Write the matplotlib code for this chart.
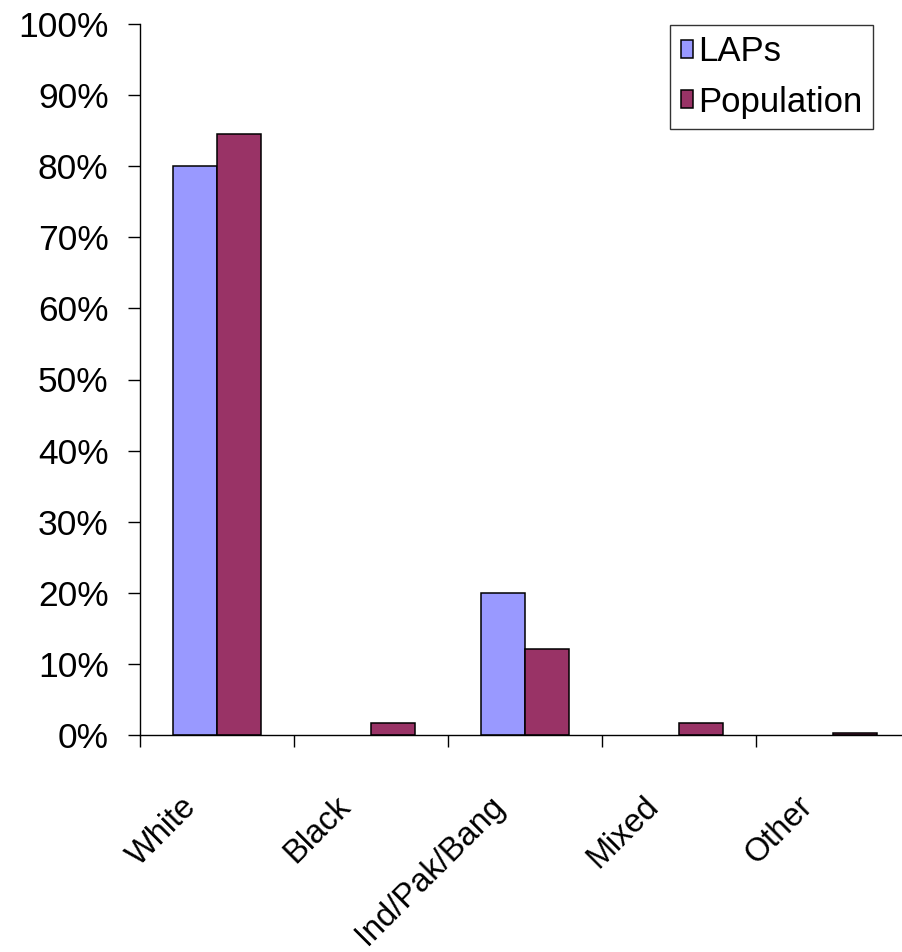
import numpy as np
import matplotlib.pyplot as plt
from matplotlib.transforms import ScaledTranslation

# Chart data (shares of each group)
categories = ["White", "Black", "Ind/Pak/Bang", "Mixed", "Other"]
laps = [80.0, 0.0, 20.0, 0.0, 0.0]
population = [84.5, 1.7, 12.1, 1.7, 0.3]
yticks = [0, 10, 20, 30, 40, 50, 60, 70, 80, 90, 100]

plt.rcParams['font.family'] = ['Liberation Sans', 'DejaVu Sans']

fig = plt.figure(figsize=(9.02, 9.52), dpi=100)
ax = fig.add_axes([140 / 902, 217 / 952, 770 / 902, 711 / 952])

x = np.arange(len(categories))
w = 44 / 154
# zero-height bars get no outline, as in the original
ax.bar(x - w / 2, laps, width=w, color="#9999FF", edgecolor="black",
       linewidth=[1.1 if v > 0 else 0 for v in laps], label="LAPs")
ax.bar(x + w / 2, population, width=w, color="#993366", edgecolor="black",
       linewidth=[1.1 if v > 0 else 0 for v in population], label="Population")

ax.set_xlim(-0.5, len(categories) - 0.5)
ax.set_ylim(0, 100)
ax.set_yticks(yticks)
ax.set_yticklabels([f"{v}%" for v in yticks], fontsize=25.5)
ax.tick_params(axis="y", direction="out", length=8.6, width=1, pad=14)

# category labels at centres, tick marks on the boundaries
ax.set_xticks(x)
ax.set_xticklabels(categories, fontsize=23.5, rotation=45, ha="right", va="center",
                   rotation_mode="anchor")
ax.tick_params(axis="x", which="major", length=0, pad=48)
ax.set_xticks(np.arange(len(categories) + 1) - 0.5, minor=True)
ax.tick_params(axis="x", which="minor", direction="out", length=8.6, width=1)
shift = ScaledTranslation(-25 / 100, 0, fig.dpi_scale_trans)
for lab in ax.get_xticklabels():
    lab.set_transform(lab.get_transform() + shift)

for side in ["top", "right"]:
    ax.spines[side].set_visible(False)
ax.spines["left"].set_linewidth(1)
ax.spines["bottom"].set_linewidth(1)

leg = ax.legend(loc="upper right", bbox_to_anchor=(873 / 902, 1 - 25 / 952),
                bbox_transform=fig.transFigure, fontsize=25, frameon=True,
                fancybox=False, shadow=False, handlelength=0.36, handleheight=0.42,
                handletextpad=0.15, borderpad=0.3, labelspacing=0.5, borderaxespad=0)
leg.get_frame().set_edgecolor("black")
leg.get_frame().set_linewidth(1)

fig.savefig("out.png", dpi=100)
